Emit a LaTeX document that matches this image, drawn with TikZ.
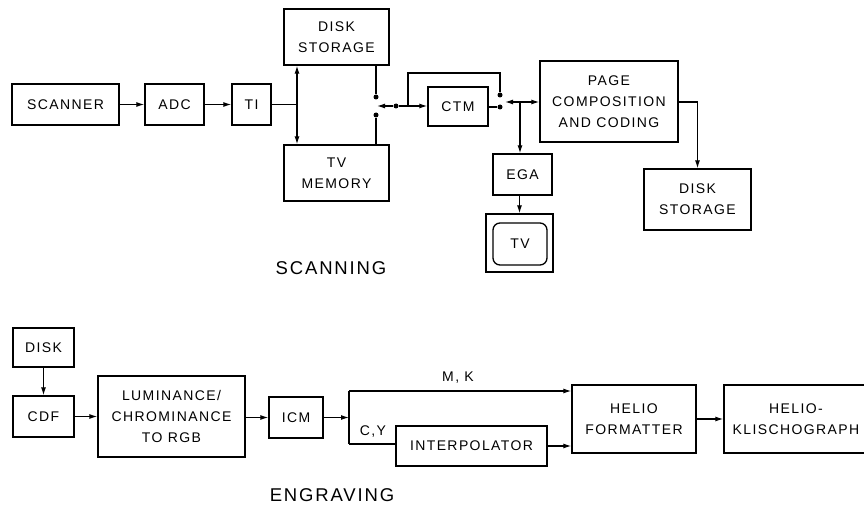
\documentclass[tikz,border=0pt]{standalone}
\usepackage{fontspec}
\setmainfont{Liberation Sans}[LetterSpace=10]
\usetikzlibrary{arrows.meta}
\tikzset{
  box/.style={draw, line width=1.3pt, inner sep=0pt, align=center, font=\fontsize{14}{21}\selectfont},
  arr/.style={-{Latex[length=8pt,width=5pt]}},
  dbl/.style={{Latex[length=8pt,width=5pt]}-{Latex[length=8pt,width=5pt]}},
  dot/.style={circle, fill, inner sep=0pt, minimum size=5pt},
  lbl/.style={font=\fontsize{14}{16}\selectfont, inner sep=0pt},
  title/.style={font=\fontsize{18.5}{20}\selectfont, inner sep=0pt},
}
\begin{document}
\begin{tikzpicture}[x=1pt,y=-1pt,line width=1.2pt]
\clip (0,0) rectangle (864,508);
\fill[white] (0,0) rectangle (864,508);
% scanning
\node[box, minimum width=107, minimum height=41] (scanner) at (65.5,104.5) {SCANNER};
\node[box, minimum width=59, minimum height=41] (adc) at (174.5,104.5) {ADC};
\node[box, minimum width=39, minimum height=41] (ti) at (251.5,104.5) {TI};
\node[box, minimum width=105, minimum height=56] (ds1) at (336.5,37) {DISK\\STORAGE};
\node[box, minimum width=105, minimum height=56] (tvm) at (336.5,173) {TV\\MEMORY};
\node[box, minimum width=60, minimum height=39] (ctm) at (458,106.5) {CTM};
\node[box, minimum width=138, minimum height=81] (page) at (609,101.5) {PAGE\\COMPOSITION\\AND CODING};
\node[box, minimum width=107, minimum height=61] (ds2) at (697.5,199.5) {DISK\\STORAGE};
\node[box, minimum width=59, minimum height=41] (ega) at (522.5,174.5) {EGA};
\node[box, minimum width=67, minimum height=58] (tvout) at (519.5,243) {};
\node[box, minimum width=54, minimum height=42, rounded corners=7pt] (tvin) at (520,244) {TV};
\node[title] (scanning) at (331,268) {SCANNING};

\coordinate (bus) at (297,104.5);
\draw[arr] (scanner) -- (adc);
\draw[arr] (adc) -- (ti);
\draw (ti.east) -- (bus);
\draw[dbl] (ds1.south -| bus) -- (tvm.north -| bus);

\node[dot] (d1) at (376,97) {};
\node[dot] (d2) at (376,115) {};
\node[dot] (d3) at (396,106) {};
\coordinate (sw1) at (377,106);
\coordinate (br1) at (408,106);
\coordinate (lt1) at (408,73);
\coordinate (lt2) at (500,73);
\node[dot] (d4) at (500,95) {};
\node[dot] (d5) at (500,107) {};
\coordinate (sw2) at (505,102);
\coordinate (br2) at (520,102);

\draw (ds1.south -| d1) -- (d1);
\draw (tvm.north -| d2) -- (d2);
\draw[arr] (d3) -- (sw1);
\draw[arr] (d3) -- (ctm.west |- d3);
\draw (br1) -- (lt1) -- (lt2) -- (d4);
\draw (ctm.east |- d5) -- (d5);
\draw[arr] (br2) -- (sw2);
\draw[arr] (br2) -- (page.west |- br2);
\draw[arr] (br2) -- (ega.north -| br2);
\draw[arr] (page.east |- br2) -| (ds2.north);
\draw[arr] (ega.south -| tvout.north) -- (tvout.north);

% engraving
\node[box, minimum width=61, minimum height=39] (disk) at (43.5,347.5) {DISK};
\node[box, minimum width=61, minimum height=41] (cdf) at (43.5,416.5) {CDF};
\node[box, minimum width=147, minimum height=81] (lum) at (171.5,416.5) {LUMINANCE/\\CHROMINANCE\\TO RGB};
\node[box, minimum width=54, minimum height=41] (icm) at (296,417.5) {ICM};
\node[box, minimum width=151, minimum height=40] (interp) at (471.5,446) {INTERPOLATOR};
\node[box, minimum width=124, minimum height=68] (hf) at (634,419) {HELIO\\FORMATTER};
\node[box, minimum width=144, minimum height=68] (hk) at (796,419) {HELIO-\\KLISCHOGRAPH};
\node[title] (engraving) at (332,495) {ENGRAVING};

\coordinate (sp) at (349,417.5);
\coordinate (spt) at (349,391);
\coordinate (spb) at (349,444);
\node[lbl] (mk) at (458,378) {M, K};
\node[lbl] (cy) at (373,432) {C,Y};

\draw[arr] (disk) -- (cdf);
\draw[arr] (cdf) -- (lum.west |- cdf);
\draw[arr] (lum.east |- icm) -- (icm);
\draw[arr] (icm.east) -- (sp);
\draw (spt) -- (spb);
\draw[arr] (spt) -- (hf.west |- spt);
\draw (spb) -- (interp.west |- spb);
\draw[arr] (interp.east) -- (hf.west |- interp.east);
\draw[arr] (hf) -- (hk);
\end{tikzpicture}
\end{document}
